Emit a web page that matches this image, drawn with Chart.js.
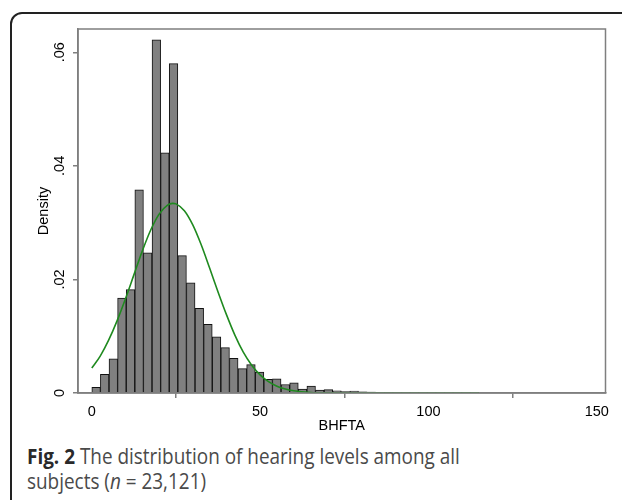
<!DOCTYPE html>
<html>
<head>
<meta charset="utf-8">
<script src="https://cdn.jsdelivr.net/npm/chart.js@4.4.1/dist/chart.umd.min.js"></script>
<style>
  html, body { margin: 0; padding: 0; background: #fff; }
  #page { position: relative; width: 622px; height: 500px; overflow: hidden; }
  #box {
    position: absolute; left: 10px; top: 12px; width: 700px; height: 600px;
    border: 2px solid #222; border-radius: 12px; box-sizing: border-box;
  }
  #wrap { position: absolute; left: 0; top: 0; width: 622px; height: 440px; }
  #caption {
    position: absolute; left: 27px; top: 444px; white-space: nowrap;
    font-family: "Open Sans", sans-serif; font-size: 21px; line-height: 25px;
    color: #4a4a4a; transform-origin: 0 0;
  }
  #caption b { color: #2a2a2a; }
</style>
</head>
<body>
<div id="page">
  <div id="box"></div>
  <div id="wrap"><canvas id="grafico"></canvas></div>
  <div id="caption"><span id="linha1"><b>Fig. 2</b> The distribution of hearing levels among all</span><br>subjects (<i>n</i> = 23,121)</div>
</div>
<script>
// Dados (densidade por classe de BHFTA)
const binCentres = [1.28, 3.83, 6.39, 8.94, 11.50, 14.06, 16.61, 19.17, 21.72, 24.28,
  26.83, 29.39, 31.94, 34.50, 37.06, 39.61, 42.17, 44.72, 47.28, 49.83,
  52.39, 54.94, 57.50, 60.06, 62.61, 65.17, 67.72, 70.28, 72.83, 75.39,
  77.94, 80.50, 83.06, 85.61, 88.17, 90.72, 93.28, 95.83, 98.39, 100.94,
  103.50, 106.06, 108.61, 111.17, 113.72];
const densityValues = [0.0010, 0.0033, 0.0060, 0.0167, 0.0182, 0.0358, 0.0247, 0.0622, 0.0423, 0.0580,
  0.0242, 0.0194, 0.0149, 0.0121, 0.0099, 0.0080, 0.0061, 0.0043, 0.0050, 0.0037,
  0.0024, 0.0025, 0.0015, 0.0018, 0.0007, 0.0012, 0.0005, 0.0006, 0.0004, 0.00025,
  0.00035, 0.0002, 0.00015, 0.0001, 0.00008, 0.00005, 0.00005, 0.00004, 0.00003, 0.00003,
  0.00002, 0.00002, 0.00002, 0.00002, 0.00003];

// Curva normal sobreposta (valores estimados na imagem)
const curveX = [0, 2.5, 5, 7.5, 10, 12.5, 15, 17.5, 20, 22.5, 24, 25, 27.5, 30, 32.5, 35,
  37.5, 40, 42.5, 45, 47.5, 50, 52.5, 55, 57.5, 60, 65, 70, 80, 115];
const curveY = [0.0044, 0.0065, 0.0093, 0.0127, 0.0166, 0.0208, 0.0250, 0.0287, 0.0315, 0.0331, 0.0334, 0.0333,
  0.0321, 0.0296, 0.0261, 0.0220, 0.0178, 0.0138, 0.0102, 0.0072, 0.0049, 0.0032, 0.0020, 0.0012,
  0.0007, 0.0004, 0.0001, 0.00002, 0, 0];

const xTicks = [0, 50, 100, 150];
const yTicks = [0, 0.02, 0.04, 0.06];
const yTickLabels = ['0', '.02', '.04', '.06'];

const fonteEixo = { family: '"Liberation Sans", Arial, sans-serif', size: 14.5 };
const corEixo = '#7f7f7f';

// Moldura do gráfico e rótulos rotacionados do eixo Y
const molduraPlugin = {
    id: 'moldura',
    afterDraw(chart) {
        const { ctx, chartArea, scales } = chart;
        ctx.save();
        ctx.strokeStyle = corEixo;
        ctx.lineWidth = 1.5;
        ctx.strokeRect(chartArea.left, chartArea.top, chartArea.right - chartArea.left, chartArea.bottom - chartArea.top);

        ctx.fillStyle = '#000';
        ctx.font = fonteEixo.size + 'px ' + fonteEixo.family;
        ctx.textAlign = 'center';
        ctx.textBaseline = 'alphabetic';
        yTicks.forEach((v, i) => {
            const y = scales.y.getPixelForValue(v);
            ctx.save();
            ctx.translate(64, y);
            ctx.rotate(-Math.PI / 2);
            ctx.fillText(yTickLabels[i], 0, 0);
            ctx.restore();
        });
        ctx.restore();
    }
};

const ctx = document.getElementById('grafico').getContext('2d');
const grafico = new Chart(ctx, {
    type: 'bar',
    data: {
        datasets: [{
            type: 'line',
            data: curveX.map((x, i) => ({ x: x, y: curveY[i] })),
            borderColor: '#1f8a1f',
            borderWidth: 1.6,
            pointRadius: 0,
            fill: false,
            cubicInterpolationMode: 'monotone',
            order: 0
        }, {
            type: 'bar',
            data: binCentres.map((x, i) => ({ x: x, y: densityValues[i] })),
            backgroundColor: '#808080',
            borderColor: '#111',
            borderWidth: 1,
            barPercentage: 1,
            categoryPercentage: 1,
            order: 1
        }]
    },
    options: {
        responsive: true,
        maintainAspectRatio: false,
        animation: false,
        layout: { padding: { top: 29, right: 16.5, left: 0, bottom: 0 } },
        plugins: {
            legend: { display: false },
            tooltip: { enabled: false }
        },
        scales: {
            x: {
                type: 'linear',
                min: -4.1,
                max: 152.6,
                offset: false,
                afterBuildTicks: (scale) => { scale.ticks = xTicks.map(v => ({ value: v })); },
                afterFit: (scale) => { scale.height = 47; },
                grid: { display: true, drawOnChartArea: false, drawTicks: true, tickLength: 5, color: corEixo, lineWidth: 1.5 },
                border: { display: true, color: corEixo, width: 1.5 },
                ticks: { color: '#000', font: fonteEixo, padding: 5, maxRotation: 0, autoSkip: false },
                title: { display: true, text: 'BHFTA', color: '#000', font: fonteEixo, padding: { top: 0, bottom: 5.6 } }
            },
            y: {
                type: 'linear',
                min: 0,
                max: 0.0641,
                afterBuildTicks: (scale) => { scale.ticks = yTicks.map(v => ({ value: v })); },
                afterFit: (scale) => { scale.width = 78; },
                grid: { display: true, drawOnChartArea: false, drawTicks: true, tickLength: 5, color: corEixo, lineWidth: 1.5 },
                border: { display: true, color: corEixo, width: 1.5 },
                ticks: { display: false },
                title: { display: true, text: 'Density', color: '#000', font: fonteEixo, padding: { top: 35, bottom: 0 } }
            }
        }
    },
    plugins: [molduraPlugin]
});

// Ajusta a largura da legenda à da figura original
const linha1 = document.getElementById('linha1');
const escala = 433 / linha1.getBoundingClientRect().width;
document.getElementById('caption').style.transform = 'scaleX(' + escala.toFixed(3) + ')';
</script>
</body>
</html>
